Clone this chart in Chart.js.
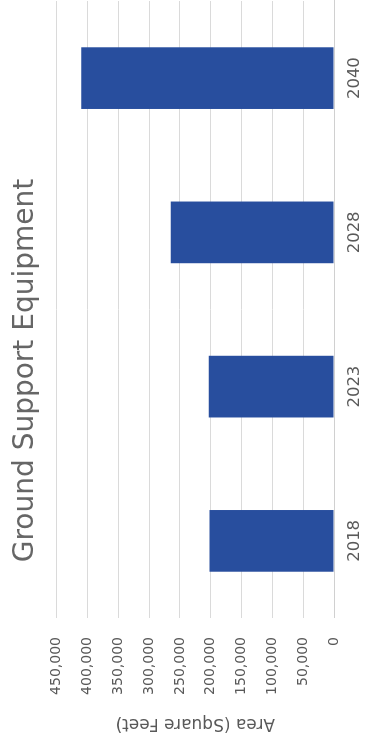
<!DOCTYPE html>
<html>
<head>
<meta charset="utf-8">
<script src="https://cdn.jsdelivr.net/npm/chart.js@4"></script>
<style>
  html, body { margin:0; padding:0; background:#fff; overflow:hidden; }
  #page { position:relative; width:365px; height:740px; }
  /* chart is laid out landscape, then turned a quarter ccw */
  #frame {
    position:absolute; left:0; top:0; width:740px; height:365px;
    transform-origin:top left; transform:translateY(740px) rotate(-90deg);
  }
</style>
</head>
<body>
<div id="page">
  <div id="frame"><canvas id="gse" width="740" height="365"></canvas></div>
</div>
<script>
const TITLE      = 'Ground Support Equipment';
const AXIS_TITLE = 'Area (Square Feet)';
const YEARS      = ['2018', '2023', '2028', '2040'];
const AREA       = [202000, 203000, 265000, 410000];
const AREA_MAX   = 450000;
const AREA_STEP  = 50000;

const FONT  = '"DejaVu Sans", "Open Sans", sans-serif';
const BLUE  = '#284e9e';
const GRID  = '#dadada';
const TEXT  = '#595959';

new Chart(document.getElementById('gse').getContext('2d'), {
  type: 'bar',
  data: {
    labels: YEARS,
    datasets: [{ data: AREA, backgroundColor: BLUE, borderWidth: 0,
                 categoryPercentage: 0.8, barPercentage: 0.5 }],
  },
  options: {
    responsive: false,
    animation: false,
    layout: { padding: { left: 0, right: 1, top: 0, bottom: 0 } },
    plugins: {
      legend: { display: false },
      tooltip: { enabled: false },
      title: { display: true, text: TITLE, color: '#666666',
               font: { family: FONT, size: 28, weight: 'normal' },
               padding: { top: 9, bottom: 14 } },
    },
    scales: {
      x: {
        grid: { display: false, drawTicks: false },
        border: { display: true, color: '#d0d0d0' },
        ticks: { color: TEXT, padding: 11, font: { family: FONT, size: 16.5 } },
        afterFit: s => { s.height = 31; },
      },
      y: {
        min: 0, max: AREA_MAX,
        grid: { color: GRID, drawTicks: false },
        border: { display: false },
        ticks: { stepSize: AREA_STEP, color: TEXT, padding: 19,
                 font: { family: FONT, size: 14 } },
        title: { display: true, text: AXIS_TITLE, color: TEXT,
                 font: { family: FONT, size: 17 }, padding: { top: 6, bottom: 0 } },
        afterFit: s => { s.width = 122; },
      },
    },
  },
});
</script>
</body>
</html>
